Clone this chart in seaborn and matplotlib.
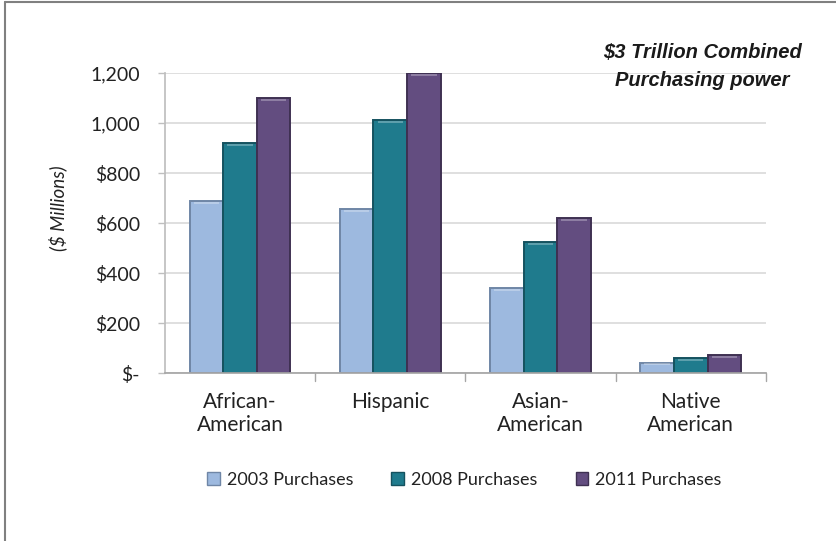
import matplotlib
matplotlib.use("Agg")
import matplotlib.pyplot as plt
import seaborn as sns
import pandas as pd
from matplotlib.patches import Rectangle
from matplotlib.lines import Line2D
from matplotlib.ticker import FixedLocator

categories = ["African-\nAmerican", "Hispanic", "Asian-\nAmerican", "Native\nAmerican"]
series = ["2003 Purchases", "2008 Purchases", "2011 Purchases"]
v2003 = [688, 656, 342, 42]
v2008 = [920, 1014, 526, 62]
v2011 = [1102, 1200, 622, 72]
yticks = [0, 200, 400, 600, 800, 1000, 1200]
yticklabels = ["$-", "$200", "$400", "$600", "$800", "1,000", "1,200"]
colors = ["#9DB9DF", "#1F7B8D", "#634D80"]
edges = ["#6F86A6", "#15525F", "#3F3152"]

rows = []
for s, vals in zip(series, [v2003, v2008, v2011]):
    for c, v in zip(categories, vals):
        rows.append({"cat": c, "series": s, "value": v})
df = pd.DataFrame(rows)

sns.set_theme(style="white")
plt.rcParams["font.family"] = ["Lato", "DejaVu Sans"]

fig = plt.figure(figsize=(8.37, 5.41), dpi=100)
ax = fig.add_axes([0.197, 0.3105, 0.718, 0.5545])

sns.barplot(data=df, x="cat", y="value", hue="series", palette=colors,
            width=0.67, ax=ax, legend=False, saturation=1)

# edges and highlight
for i, cont in enumerate(ax.containers):
    for p in cont.patches:
        p.set_edgecolor(edges[i])
        p.set_linewidth(1.4)
        x, w, h = p.get_x(), p.get_width(), p.get_height()
        strip = min(14, h * 0.25)
        ax.add_patch(Rectangle((x + w * 0.12, h - strip * 0.9), w * 0.76, strip * 0.6,
                               facecolor="white", alpha=0.28, linewidth=0, zorder=p.get_zorder() + 0.1))

ax.set_ylim(0, 1200)
ax.set_xlim(-0.5, 3.5)
ax.yaxis.set_major_locator(FixedLocator(yticks))
ax.set_yticklabels(yticklabels, fontsize=14, color="#222222")
ax.tick_params(axis="x", labelsize=15, colors="#222222", length=0, pad=14)
for t in ax.get_xticklabels():
    t.set_linespacing(1.15)
ax.tick_params(axis="y", length=5, width=1, color="#BFBFBF", left=True, pad=13)
ax.grid(axis="y", color="#D9D9D9", linewidth=1.2)
ax.set_axisbelow(True)
for side in ["top", "right"]:
    ax.spines[side].set_visible(False)
ax.spines["left"].set_color("#BFBFBF")
ax.spines["bottom"].set_color("#A6A6A6")
ax.set_xlabel("")
ax.set_ylabel("($ Millions)", fontsize=13.5, style="italic", color="#222222")
ax.yaxis.set_label_coords(-0.162, 0.55)

# category boundary ticks
for b in [0.5, 1.5, 2.5, 3.5]:
    ax.plot([b, b], [0, -0.025], transform=ax.get_xaxis_transform(), color="#A6A6A6",
            linewidth=1, clip_on=False)

# title
fig.text(0.839, 1 - 67 / 541, "$3 Trillion Combined\nPurchasing power", ha="center", va="center",
         fontsize=14.5, fontweight="bold", style="italic", color="#1A1A1A",
         family=["Liberation Sans Narrow", "Liberation Sans", "DejaVu Sans"], linespacing=1.6)

# legend
handles = [Rectangle((0, 0), 1, 1, facecolor=colors[i], edgecolor=edges[i]) for i in range(3)]
fig.legend(handles, series, loc="center", bbox_to_anchor=(0.555, 1 - 480 / 541), ncol=3,
           frameon=False, fontsize=13, handlelength=0.7, handleheight=0.7, handletextpad=0.4,
           columnspacing=2.1, labelcolor="#222222")

# figure border (left and top)
fig.add_artist(Line2D([0.006, 0.006], [0, 0.996], transform=fig.transFigure, color="#808080", linewidth=1.5))
fig.add_artist(Line2D([0.006, 1.0], [0.996, 0.996], transform=fig.transFigure, color="#808080", linewidth=1.5))

fig.savefig("out.png", dpi=100)
